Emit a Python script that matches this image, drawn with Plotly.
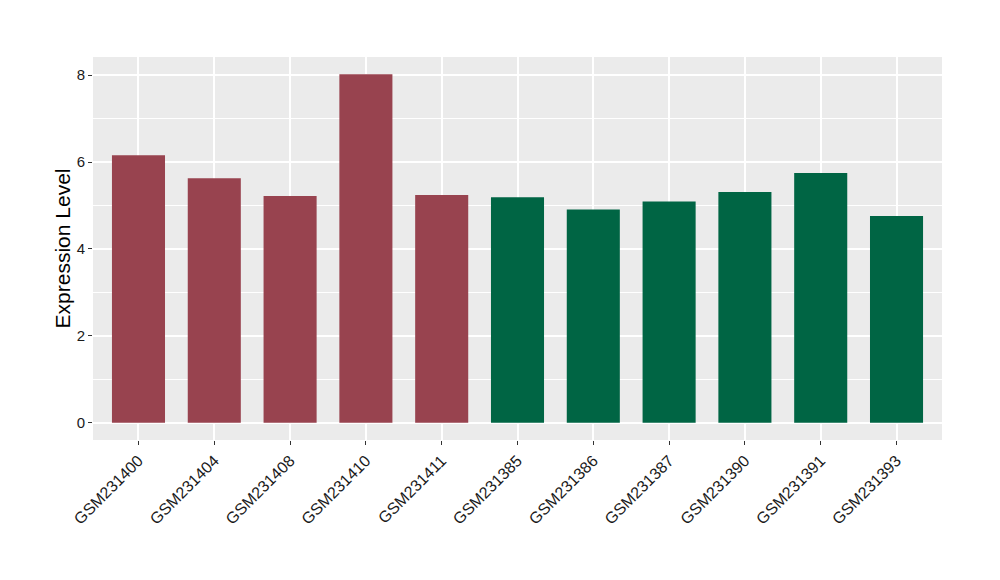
import plotly.graph_objects as go

samples = ["GSM231400", "GSM231404", "GSM231408", "GSM231410", "GSM231411",
           "GSM231385", "GSM231386", "GSM231387", "GSM231390", "GSM231391", "GSM231393"]
values = [6.16, 5.63, 5.22, 8.02, 5.24, 5.19, 4.91, 5.09, 5.31, 5.75, 4.76]
groups = ["A"] * 5 + ["B"] * 6
group_colors = {"A": "#98434F", "B": "#006544"}

fig = go.Figure()
fig.add_trace(go.Bar(
    x=samples, y=values, width=0.7,
    marker=dict(color=[group_colors[g] for g in groups], line=dict(width=0)),
    showlegend=False,
))

fig.update_layout(
    width=1000, height=580,
    margin=dict(l=85, r=66, t=49, b=148, autoexpand=False),
    paper_bgcolor="white", plot_bgcolor="#EBEBEB",
    font=dict(family="Liberation Sans, Arial, sans-serif", color="#1A1A1A"),
    bargap=0.3,
)
fig.update_xaxes(
    range=[-0.6, 10.6], tickangle=-45, showgrid=True, gridcolor="white", gridwidth=1.5,
    ticks="outside", ticklen=4, tickcolor="#333333", tickfont=dict(size=16, color="#1A1A1A"),
    zeroline=False, showline=False, automargin=False,
)
fig.update_yaxes(
    range=[-0.4, 8.42], tickvals=[0, 2, 4, 6, 8], showgrid=True, gridcolor="white", gridwidth=1.5,
    minor=dict(tickvals=[1, 3, 5, 7], showgrid=True, gridcolor="white", gridwidth=0.7),
    ticks="outside", ticklen=4, tickcolor="#333333", tickfont=dict(size=15, color="#1A1A1A"),
    zeroline=False, showline=False, automargin=False,
    title=dict(text="Expression Level", font=dict(size=21, color="black"), standoff=0),
)

fig.write_html("out.html")
